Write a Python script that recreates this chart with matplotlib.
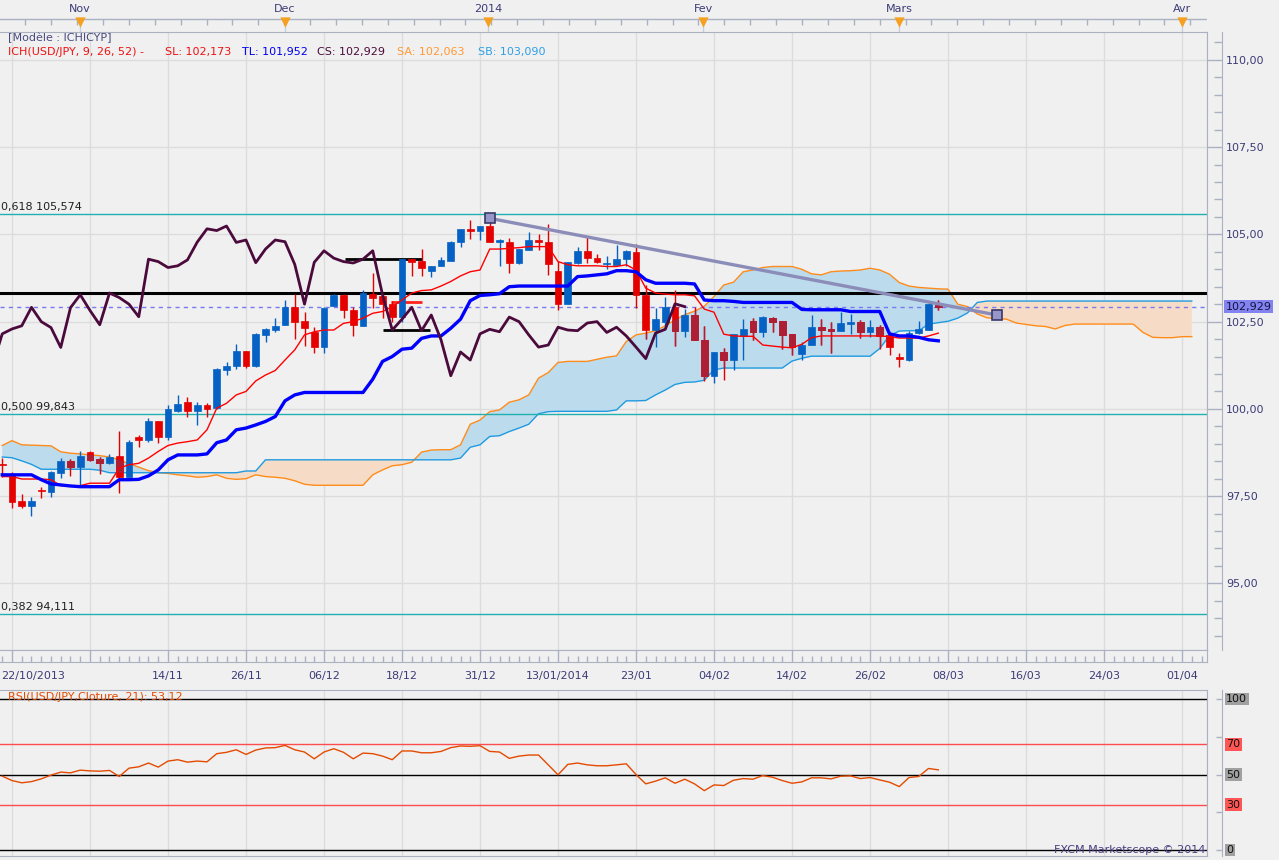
import numpy as np
import matplotlib
matplotlib.use("Agg")
import matplotlib.pyplot as plt
from matplotlib.ticker import MultipleLocator, FuncFormatter, FixedLocator
from matplotlib.path import Path
from matplotlib.patches import PathPatch

plt.rcParams['font.family'] = ['DejaVu Sans']
plt.rcParams['font.size'] = 8

# bar index 0 = 22/10/2013, first candle drawn is index -1
first_bar = -1

opens = [98.42,
         98.11, 97.37, 97.22, 97.67, 97.63, 98.16, 98.51, 98.33, 98.75, 98.57,
         98.46, 98.65, 98.06, 99.19, 99.11, 99.64, 99.19, 99.95, 100.20, 99.95,
         100.11, 100.02, 101.12, 101.24, 101.67, 101.24, 102.12, 102.26, 102.41, 102.91,
         102.52, 102.20, 101.76, 102.95, 103.27, 102.84, 102.38, 103.29, 103.24, 103.00,
         102.64, 104.29, 104.24, 103.96, 104.08, 104.25, 104.77, 105.16, 105.11, 105.24,
         104.77, 104.77, 104.19, 104.56, 104.84, 104.79, 103.95, 103.00, 104.19, 104.53,
         104.32, 104.15, 104.12, 104.29, 104.50, 103.27, 102.26, 102.50, 102.91, 102.24,
         102.69, 101.98, 100.95, 101.63, 101.40, 102.09, 102.52, 102.21, 102.60, 102.52,
         102.15, 101.58, 101.83, 102.34, 102.29, 102.24, 102.44, 102.48, 102.19, 102.34,
         102.12, 101.48, 101.40, 102.17, 102.26, 102.98]
highs = [98.60,
         98.20, 97.56, 97.48, 97.76, 98.23, 98.59, 98.55, 98.80, 98.80, 98.63,
         98.71, 99.38, 99.10, 99.26, 99.73, 99.64, 100.11, 100.40, 100.35, 100.21,
         100.18, 101.17, 101.34, 101.86, 101.67, 102.17, 102.33, 102.60, 103.12, 103.29,
         102.79, 102.35, 102.91, 103.30, 103.30, 102.93, 103.41, 103.90, 103.29, 103.10,
         104.30, 104.30, 104.58, 104.10, 104.36, 104.80, 105.16, 105.40, 105.24, 105.46,
         104.86, 104.89, 104.58, 105.07, 105.00, 105.29, 104.24, 104.22, 104.65, 104.96,
         104.45, 104.38, 104.70, 104.56, 104.72, 103.55, 102.90, 103.20, 103.40, 102.85,
         102.91, 102.38, 101.63, 101.74, 102.12, 102.57, 102.60, 102.66, 102.64, 102.52,
         102.15, 101.93, 102.68, 102.57, 102.50, 102.78, 102.71, 102.56, 102.56, 102.41,
         102.15, 101.60, 102.22, 102.53, 103.04, 103.12]
lows = [98.05,
        97.15, 97.16, 96.93, 97.44, 97.47, 98.01, 98.08, 97.82, 98.51, 98.14,
        98.42, 97.60, 98.00, 98.92, 99.06, 99.03, 99.11, 99.92, 99.78, 99.54,
        99.78, 100.00, 100.97, 101.15, 101.17, 101.20, 101.93, 102.20, 102.40, 102.00,
        101.80, 101.60, 101.60, 102.95, 102.60, 102.10, 102.38, 102.90, 102.60, 102.50,
        102.50, 103.80, 103.82, 103.78, 104.08, 104.25, 104.65, 104.87, 104.85, 104.77,
        104.08, 103.90, 104.14, 104.56, 104.55, 103.84, 102.84, 103.00, 104.14, 104.19,
        104.18, 104.00, 104.12, 104.09, 102.90, 101.99, 101.76, 102.30, 101.80, 102.07,
        101.98, 100.80, 100.75, 100.83, 101.10, 101.40, 101.98, 102.07, 102.21, 101.71,
        101.55, 101.39, 101.83, 101.83, 101.60, 102.24, 102.15, 102.02, 102.07, 101.73,
        101.55, 101.21, 101.38, 102.14, 102.26, 102.84]
closes = [98.38,
          97.34, 97.22, 97.37, 97.64, 98.18, 98.51, 98.33, 98.66, 98.54, 98.46,
          98.62, 98.06, 99.06, 99.11, 99.64, 99.19, 100.00, 100.14, 99.95, 100.11,
          99.99, 101.15, 101.24, 101.67, 101.24, 102.15, 102.29, 102.38, 102.91, 102.50,
          102.33, 101.76, 102.90, 103.27, 102.82, 102.41, 103.32, 103.19, 103.00, 102.64,
          104.29, 104.22, 104.05, 104.10, 104.27, 104.78, 105.16, 105.11, 105.24, 104.77,
          104.84, 104.19, 104.58, 104.84, 104.79, 104.14, 103.00, 104.20, 104.53, 104.32,
          104.22, 104.18, 104.29, 104.53, 103.27, 102.26, 102.57, 102.91, 102.24, 102.69,
          101.98, 100.95, 101.63, 101.40, 102.15, 102.28, 102.21, 102.63, 102.50, 102.12,
          101.77, 101.83, 102.34, 102.26, 102.24, 102.46, 102.50, 102.19, 102.34, 102.09,
          101.77, 101.44, 102.17, 102.28, 103.01, 102.93]

tenkan = [98.06,
          98.06, 97.99, 97.99, 97.99, 97.97, 97.80, 97.80, 97.80, 97.87, 97.87,
          97.87, 98.30, 98.40, 98.44, 98.59, 98.78, 98.95, 99.02, 99.06, 99.11,
          99.40, 100.02, 100.16, 100.40, 100.50, 100.80, 100.97, 101.10, 101.40, 101.69,
          102.12, 102.21, 102.26, 102.26, 102.45, 102.50, 102.60, 102.74, 102.79, 102.93,
          103.12, 103.32, 103.39, 103.41, 103.52, 103.65, 103.81, 103.93, 103.98, 104.58,
          104.58, 104.60, 104.62, 104.65, 104.65, 104.65, 104.22, 104.13, 104.10, 104.10,
          104.10, 104.08, 104.08, 104.13, 103.98, 103.46, 103.32, 103.29, 103.27, 103.27,
          103.24, 102.86, 102.77, 102.14, 102.09, 102.08, 102.08, 101.83, 101.80, 101.77,
          101.75, 101.85, 102.04, 102.09, 102.09, 102.09, 102.09, 102.09, 102.09, 102.09,
          102.07, 102.03, 102.03, 102.03, 102.09, 102.17]
kijun = [98.11,
         98.11, 98.11, 98.11, 97.97, 97.85, 97.82, 97.79, 97.77, 97.77, 97.77,
         97.77, 97.97, 97.97, 97.98, 98.08, 98.25, 98.54, 98.68, 98.68, 98.68,
         98.71, 99.03, 99.11, 99.40, 99.45, 99.54, 99.64, 99.78, 100.23, 100.40,
         100.47, 100.47, 100.47, 100.47, 100.47, 100.47, 100.47, 100.85, 101.36, 101.50,
         101.71, 101.74, 102.02, 102.09, 102.09, 102.31, 102.57, 103.10, 103.25, 103.27,
         103.30, 103.50, 103.52, 103.52, 103.52, 103.52, 103.52, 103.52, 103.79, 103.81,
         103.84, 103.87, 103.96, 103.96, 103.93, 103.70, 103.60, 103.60, 103.60, 103.60,
         103.58, 103.12, 103.10, 103.10, 103.08, 103.05, 103.05, 103.05, 103.05, 103.05,
         103.05, 102.85, 102.84, 102.84, 102.84, 102.84, 102.79, 102.79, 102.79, 102.79,
         102.15, 102.09, 102.09, 102.05, 101.98, 101.95]
senkou_a = [98.95,
            99.09, 98.97, 98.96, 98.95, 98.94, 98.77, 98.73, 98.71, 98.68, 98.66,
            98.62, 98.54, 98.43, 98.33, 98.23, 98.17, 98.15, 98.11, 98.08, 98.04,
            98.06, 98.11, 98.01, 97.98, 98.00, 98.11, 98.06, 98.04, 98.01, 97.94,
            97.84, 97.81, 97.81, 97.81, 97.81, 97.81, 97.81, 98.11, 98.25, 98.37,
            98.40, 98.47, 98.76, 98.82, 98.83, 98.83, 98.97, 99.56, 99.68, 99.92,
            99.97, 100.19, 100.26, 100.40, 100.88, 101.04, 101.33, 101.36, 101.36, 101.36,
            101.42, 101.48, 101.52, 101.93, 102.12, 102.17, 102.24, 102.38, 102.55, 102.70,
            102.80, 102.94, 103.22, 103.55, 103.63, 103.93, 103.98, 104.05, 104.08, 104.08,
            104.08, 104.00, 103.87, 103.84, 103.93, 103.95, 103.96, 103.98, 104.03, 103.98,
            103.86, 103.62, 103.52, 103.48, 103.46, 103.44, 103.43, 103.00, 102.93, 102.72,
            102.61, 102.59, 102.57, 102.46, 102.42, 102.38, 102.36, 102.29, 102.39, 102.43,
            102.43, 102.43, 102.43, 102.43, 102.43, 102.43, 102.19, 102.05, 102.04, 102.04,
            102.07, 102.07]
senkou_b = [98.62,
            98.60, 98.51, 98.41, 98.27, 98.27, 98.27, 98.27, 98.27, 98.27, 98.24,
            98.17, 98.17, 98.17, 98.17, 98.17, 98.17, 98.17, 98.17, 98.17, 98.17,
            98.17, 98.17, 98.17, 98.17, 98.22, 98.22, 98.54, 98.54, 98.54, 98.54,
            98.54, 98.54, 98.54, 98.54, 98.54, 98.54, 98.54, 98.54, 98.54, 98.54,
            98.54, 98.54, 98.54, 98.54, 98.54, 98.54, 98.59, 98.90, 98.97, 99.21,
            99.23, 99.35, 99.45, 99.56, 99.86, 99.92, 99.93, 99.93, 99.93, 99.93,
            99.93, 99.93, 99.97, 100.23, 100.23, 100.24, 100.40, 100.54, 100.70, 100.76,
            100.77, 100.82, 101.12, 101.17, 101.17, 101.17, 101.17, 101.17, 101.17, 101.17,
            101.37, 101.45, 101.51, 101.51, 101.51, 101.51, 101.51, 101.51, 101.51, 101.73,
            102.10, 102.23, 102.24, 102.24, 102.43, 102.47, 102.51, 102.60, 102.75, 103.05,
            103.09, 103.09, 103.09, 103.09, 103.09, 103.09, 103.09, 103.09, 103.09, 103.09,
            103.09, 103.09, 103.09, 103.09, 103.09, 103.09, 103.09, 103.09, 103.09, 103.09,
            103.09, 103.09]
chikou_shift = 26

rsi = [48.9,
       46.0, 44.5, 45.3, 47.1, 49.6, 51.6, 51.1, 52.9, 52.4, 52.2,
       52.7, 48.7, 54.2, 55.1, 57.6, 54.9, 58.9, 59.8, 58.2, 58.9,
       58.4, 63.8, 64.7, 66.4, 63.3, 66.2, 67.6, 67.8, 69.3, 66.4,
       64.9, 60.4, 64.9, 67.1, 64.7, 60.4, 64.2, 63.8, 62.2, 59.8,
       65.6, 65.6, 64.4, 64.4, 65.3, 67.8, 68.9, 68.7, 69.1, 65.3,
       64.9, 60.7, 62.2, 62.9, 62.9, 56.4, 49.8, 56.7, 57.6, 56.4,
       55.8, 55.8, 56.4, 57.1, 50.0, 43.8, 45.6, 47.8, 44.2, 46.9,
       43.8, 39.3, 43.1, 42.7, 46.2, 47.3, 46.9, 49.3, 48.2, 46.0,
       44.2, 45.1, 47.8, 47.8, 47.1, 48.9, 49.1, 47.3, 48.0, 46.4,
       44.9, 42.0, 48.0, 48.7, 54.0, 53.1]
rsi_levels = [100, 70, 50, 30, 0]
rsi_level_colors = ['black', '#ff4d4d', 'black', '#ff4d4d', 'black']
rsi_box_colors = ['#a0a0a0', '#ff5555', '#a0a0a0', '#ff5555', '#a0a0a0']

fib_ratios = [0.618, 0.500, 0.382]
fib_levels = [105.574, 99.843, 94.111]
resistance = 103.33
last_close = 102.929
box_top = (34.2, 42.0, 104.30)
box_bottom = (38.0, 42.9, 102.26)
red_mark = (38.9, 42.0, 103.05)
trend_x = [49, 101]
trend_y = [105.46, 102.69]

grid_ticks = list(range(0, 121, 8))
date_labels = ['', '', '14/11', '26/11', '06/12', '18/12', '31/12', '13/01/2014',
               '23/01', '04/02', '14/02', '26/02', '08/03', '16/03', '24/03', '01/04']
month_pos = [7.0, 28.0, 48.8, 70.9, 91.0, 120.0]
month_labels = ['Nov', 'Dec', '2014', 'Fev', 'Mars', 'Avr']
ruler_ticks = np.arange(1.37, 122.5, 2.655)

W, H = 1279, 860
BG = '#f0f0f0'
GRID = '#dcdcdc'
FRAME = '#aab2c2'
TXT = '#3c3c78'
BLUE = '#0562c4'
RED = '#e50000'
DARK_RED = '#ad1f35'
XLIM = (-1.23, 122.56)


def rect(x0, y0, x1, y1):
    return [x0 / W, 1 - y1 / H, (x1 - x0) / W, (y1 - y0) / H]


def comma(v, nd=2):
    return f'{v:.{nd}f}'.replace('.', ',')


fig = plt.figure(figsize=(W / 100, H / 100), dpi=100, facecolor=BG)

# month ruler on top
ax_top = fig.add_axes(rect(0, 0, 1207, 32))
ax_top.set_xlim(*XLIM)
ax_top.set_ylim(32, 0)
ax_top.axis('off')
ax_top.axhline(18.5, color=FRAME, lw=1)
ax_top.vlines(ruler_ticks, 18.5, 25, color=FRAME, lw=1)
ax_top.vlines(month_pos, 18.5, 32, color='#c8d0dc', lw=1)
ax_top.scatter(month_pos, [21.5] * len(month_pos), marker='v', s=55,
               color='#f5a020', linewidths=0, zorder=3)
for m, lab in zip(month_pos, month_labels):
    ax_top.text(m, 9, lab, ha='center', va='center', color=TXT)

# main price panel
ax = fig.add_axes(rect(0, 32, 1207, 650))
ax.set_facecolor(BG)
ax.set_xlim(*XLIM)
ax.set_ylim(93.09, 110.80)
ax.set_xticks(grid_ticks)
ax.yaxis.set_major_locator(MultipleLocator(2.5))
ax.tick_params(length=0, labelleft=False, labelbottom=False)
ax.grid(True, color=GRID, lw=1)
ax.set_axisbelow(True)
for s in ax.spines.values():
    s.set_color(FRAME)
ax.spines['left'].set_visible(False)

sa = np.array(senkou_a)
sb = np.array(senkou_b)
xc = np.arange(first_bar, first_bar + len(sa))
cloud = ax.fill_between(xc, sa, sb, where=sa >= sb, interpolate=True,
                        color='#bcdcee', lw=0, zorder=1)
ax.fill_between(xc, sa, sb, where=sa < sb, interpolate=True,
                color='#f6dcc6', lw=0, zorder=1)
ax.plot(xc, sa, color='#ff8c1a', lw=1, zorder=2)
ax.plot(xc, sb, color='#1f9ae0', lw=1, zorder=2)

for ratio, lvl in zip(fib_ratios, fib_levels):
    ax.axhline(lvl, color='#20b0b0', lw=1, zorder=2)
    ax.annotate(f'{comma(ratio, 3)} {comma(lvl, 3)}', xy=(0, lvl),
                xycoords=('axes fraction', 'data'), xytext=(0.5, 1.5),
                textcoords='offset points', ha='left', va='bottom', color='#202020')

ax.axhline(resistance, color='black', lw=2.2, zorder=3)
ax.axhline(last_close, color='#7878f0', lw=1, ls=(0, (3, 3)), zorder=3)
ax.hlines([box_top[2], box_bottom[2]], [box_top[0], box_bottom[0]],
          [box_top[1], box_bottom[1]], color='black', lw=2, zorder=3)
ax.hlines(red_mark[2], red_mark[0], red_mark[1], color='#ff2020', lw=2, zorder=3)

# candles
x = np.arange(first_bar, first_bar + len(closes))
o, h, l, c = (np.array(v) for v in (opens, highs, lows, closes))
up = c >= o
col = np.where(up, BLUE, RED)
body = np.maximum(np.abs(c - o), 0.03)
bottom = np.minimum(o, c)
ax.vlines(x, l, h, colors=col, lw=1, zorder=4)
ax.bar(x, body, bottom=bottom, width=0.7, color=col, edgecolor=col, lw=0.5, zorder=4)

# bearish candles look darker where they sit inside the blue cloud
clip = PathPatch(Path.make_compound_path(*cloud.get_paths()), transform=ax.transData)
dn = ~up
dw = ax.vlines(x[dn], l[dn], h[dn], colors=DARK_RED, lw=1, zorder=4.1)
dw.set_clip_path(clip)
db = ax.bar(x[dn], body[dn], bottom=bottom[dn], width=0.7, color=DARK_RED,
            edgecolor=DARK_RED, lw=0.5, zorder=4.1)
for p in db:
    p.set_clip_path(clip)

ax.plot(x, tenkan, color='#ff0000', lw=1, zorder=5)
ax.plot(x, kijun, color='#0000ff', lw=2.4, zorder=5)
chik_x = np.arange(first_bar - 1, first_bar - 1 + len(closes) - chikou_shift + 1)
ax.plot(chik_x, c[chikou_shift - 1:], color='#4b0a3c', lw=2, zorder=5)

ax.plot(trend_x, trend_y, color='#8c8cb8', lw=2.4, zorder=6, solid_capstyle='butt')
ax.plot(trend_x, trend_y, ls='none', marker='s', ms=6.5, mfc='#9696c8',
        mec='#383868', mew=1.2, zorder=7)

# right price scale
ax_r = fig.add_axes(rect(1207, 32, 1222, 650))
ax_r.set_facecolor(BG)
ax_r.set_xlim(0, 1)
ax_r.set_ylim(ax.get_ylim())
ax_r.set_xticks([])
ax_r.yaxis.tick_right()
ax_r.yaxis.set_major_locator(MultipleLocator(2.5))
ax_r.yaxis.set_minor_locator(MultipleLocator(0.5))
ax_r.yaxis.set_major_formatter(FuncFormatter(lambda v, p: comma(v)))
ax_r.tick_params(axis='y', which='major', direction='in', length=10.8, width=1,
                 color=FRAME, labelcolor=TXT, pad=3)
ax_r.tick_params(axis='y', which='minor', direction='in', length=6, width=1, color=FRAME)
for side in ('top', 'bottom'):
    ax_r.spines[side].set_visible(False)
for side in ('left', 'right'):
    ax_r.spines[side].set_color(FRAME)
ax_r.annotate(comma(last_close, 3), xy=(1, last_close), xycoords=('axes fraction', 'data'),
              xytext=(2.5, 0), textcoords='offset points', ha='left', va='center',
              color='#14143c', annotation_clip=False,
              bbox=dict(boxstyle='square,pad=0.15', fc='#8282f0', ec='none'))

# date strip
ax_d = fig.add_axes(rect(0, 650, 1207, 662))
ax_d.set_facecolor(BG)
ax_d.set_xlim(*XLIM)
ax_d.set_yticks([])
ax_d.set_xticks(grid_ticks, labels=date_labels)
ax_d.xaxis.set_minor_locator(MultipleLocator(1))
ax_d.tick_params(axis='x', which='major', direction='in', length=8.6, width=1,
                 color=FRAME, labelcolor=TXT, pad=6.5)
ax_d.tick_params(axis='x', which='minor', direction='in', length=4.3, width=1, color=FRAME)
ax_d.spines['left'].set_visible(False)
for side in ('top', 'bottom', 'right'):
    ax_d.spines[side].set_color(FRAME)
fig.text(1 / W, 1 - 676 / H, '22/10/2013', ha='left', va='center', color=TXT)

# RSI panel
ax_rsi = fig.add_axes(rect(0, 690, 1207, 856))
ax_rsi.set_facecolor(BG)
ax_rsi.set_xlim(*XLIM)
ax_rsi.set_ylim(-4, 106)
ax_rsi.set_xticks(grid_ticks)
ax_rsi.set_yticks([])
ax_rsi.tick_params(length=0, labelbottom=False)
ax_rsi.grid(axis='x', color=GRID, lw=1)
ax_rsi.set_axisbelow(True)
for s in ax_rsi.spines.values():
    s.set_color(FRAME)
ax_rsi.spines['left'].set_visible(False)
for lvl, lc in zip(rsi_levels, rsi_level_colors):
    ax_rsi.axhline(lvl, color=lc, lw=1, zorder=2)
ax_rsi.plot(x, rsi, color='#e44a00', lw=1, zorder=3)

ax_rr = fig.add_axes(rect(1207, 690, 1222, 856))
ax_rr.set_facecolor(BG)
ax_rr.set_xlim(0, 1)
ax_rr.set_ylim(ax_rsi.get_ylim())
ax_rr.set_xticks([])
ax_rr.yaxis.tick_right()
ax_rr.yaxis.set_major_locator(FixedLocator([0, 25, 50, 75, 100]))
ax_rr.tick_params(axis='y', direction='in', length=4.5, width=1, color=FRAME,
                  labelright=False)
for side in ('top', 'bottom'):
    ax_rr.spines[side].set_visible(False)
for side in ('left', 'right'):
    ax_rr.spines[side].set_color(FRAME)
for lvl, bc in zip(rsi_levels, rsi_box_colors):
    ax_rr.annotate(str(lvl), xy=(1, lvl), xycoords=('axes fraction', 'data'),
                   xytext=(3, 0), textcoords='offset points', ha='left', va='center',
                   color='#101010', annotation_clip=False,
                   bbox=dict(boxstyle='square,pad=0.12', fc=bc, ec='none'))

# header texts
fig.text(8 / W, 1 - 38 / H, '[Modèle : ICHICYP]', ha='left', va='center', color='#4a4a80')
legend_parts = [('ICH(USD/JPY, 9, 26, 52) -', '#ee1111', 8),
                ('SL: ' + comma(tenkan[-1], 3).replace('102,170', '102,173'), '#ee1111', 165),
                ('TL: 101,952', '#0000ee', 242),
                ('CS: ' + comma(last_close, 3), '#4b0a3c', 317),
                ('SA: 102,063', '#ff9933', 397),
                ('SB: 103,090', '#2ea0e6', 478)]
for txt, tc, px in legend_parts:
    fig.text(px / W, 1 - 52 / H, txt, ha='left', va='center', color=tc)

fig.text(8 / W, 1 - 697 / H, 'RSI(USD/JPY,Cloture, 21): 53,12', ha='left', va='center',
         color='#e44a00')
fig.text(1205 / W, 1 - 850 / H, 'FXCM Marketscope © 2014', ha='right', va='center',
         color='#4a3c80')

fig.savefig('out.png', dpi=100, facecolor=BG)
